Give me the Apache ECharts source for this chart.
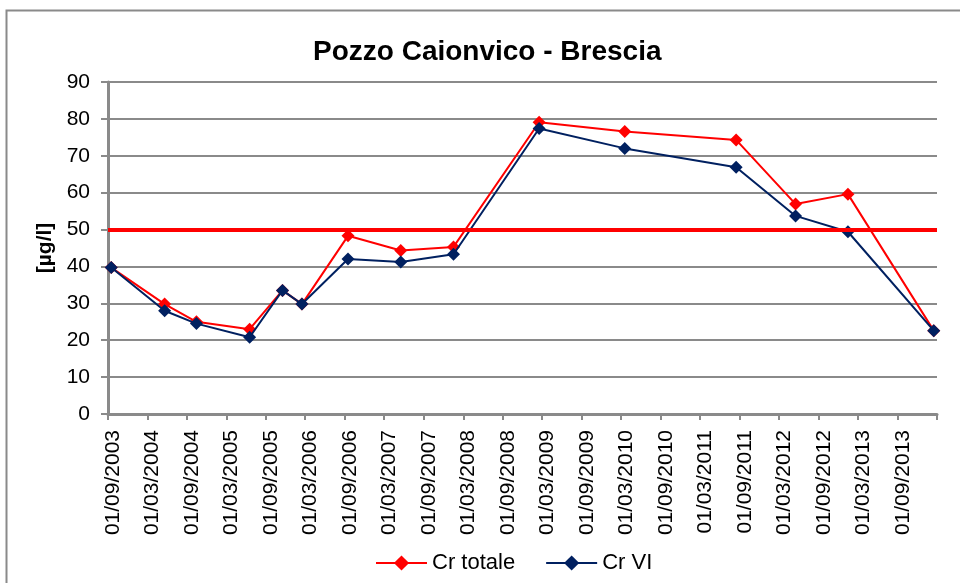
<!DOCTYPE html>
<html>
<head>
<meta charset="utf-8">
<script src="https://cdn.jsdelivr.net/npm/echarts@6/dist/echarts.min.js"></script>
<style>
html,body{margin:0;padding:0;background:#fff;}
#chart{width:960px;height:583px;}
</style>
</head>
<body>
<div id="chart"></div>
<script>
// ---- data ----
const titleText = 'Pozzo Caionvico - Brescia';
const yAxisName = '[µg/l]';
const seriesNames = ['Cr totale', 'Cr VI'];
const sampleDates = ['2003-09-16','2004-05-20','2004-10-14','2005-06-17','2005-11-16','2006-02-14','2006-09-15','2007-05-17','2008-01-16','2009-02-15','2010-03-18','2011-08-15','2012-05-16','2013-01-13','2014-02-14'];
const crTotale = [39.7, 29.8, 25.0, 23.0, 33.5, 29.8, 48.3, 44.3, 45.3, 79.1, 76.6, 74.3, 56.9, 59.6, 22.6];
const crVI     = [39.7, 28.0, 24.5, 20.8, 33.5, 29.8, 42.0, 41.2, 43.3, 77.4, 72.0, 66.9, 53.7, 49.4, 22.6];
const tickDates = ['2003-09-01','2004-03-01','2004-09-01','2005-03-01','2005-09-01','2006-03-01','2006-09-01','2007-03-01','2007-09-01','2008-03-01','2008-09-01','2009-03-01','2009-09-01','2010-03-01','2010-09-01','2011-03-01','2011-09-01','2012-03-01','2012-09-01','2013-03-01','2013-09-01','2014-03-01'];
const labelDates = tickDates.slice(0, 21);
const limitValue = 50;
const yTicks = [0, 10, 20, 30, 40, 50, 60, 70, 80, 90];

// day number (days since 1970-01-01, UTC) of a YYYY-MM-DD string
function toDay(s){ const p = s.split('-').map(Number); return Date.UTC(p[0], p[1]-1, p[2]) / 86400000; }
function pad(n){ return (n < 10 ? '0' : '') + n; }
function fmt(day){ const d = new Date(Math.round(day) * 86400000); return pad(d.getUTCDate()) + '/' + pad(d.getUTCMonth()+1) + '/' + d.getUTCFullYear(); }

const chart = echarts.init(document.getElementById('chart'), null, {renderer:'canvas'});
const FONT = 'Liberation Sans, Arial, sans-serif';
const GRAY = '#8a8a8a';

chart.setOption({
  animation: false,
  backgroundColor: '#fff',
  textStyle: { fontFamily: FONT },
  title: {
    text: titleText,
    left: 308, top: 33,
    textStyle: { fontFamily: FONT, fontSize: 28, fontWeight: 'bold', color: '#000' }
  },
  graphic: [{
    type: 'rect', silent: true, z: -10,
    shape: { x: 6.5, y: 10.5, width: 1000, height: 600 },
    style: { fill: 'none', stroke: GRAY, lineWidth: 2 }
  }],
  legend: {
    left: 370, top: 547,
    itemWidth: 51, itemHeight: 19, itemGap: 30,
    textStyle: { fontFamily: FONT, fontSize: 22, color: '#000' },
    data: seriesNames
  },
  grid: { left: 108, right: 23, top: 82, bottom: 169, containLabel: false },
  xAxis: {
    type: 'value',
    min: toDay(tickDates[0]),
    max: toDay(tickDates[tickDates.length-1]),
    axisLine: { show: true, onZero: false, lineStyle: { color: GRAY, width: 3 } },
    axisTick: { show: true, length: 6, lineStyle: { color: GRAY, width: 2 }, customValues: tickDates.map(toDay) },
    axisLabel: {
      customValues: labelDates.map(toDay),
      rotate: 90, margin: 16, verticalAlign: 'top', lineHeight: 10,
      fontFamily: FONT, fontSize: 21, color: '#000',
      formatter: function(v){ return fmt(v); }
    },
    splitLine: { show: false }
  },
  yAxis: {
    type: 'value', min: yTicks[0], max: yTicks[yTicks.length-1], interval: 10,
    name: yAxisName, nameLocation: 'middle', nameGap: 49, nameRotate: 90,
    nameTextStyle: { fontFamily: FONT, fontSize: 21, fontWeight: 'bold', color: '#000' },
    axisLine: { show: true, lineStyle: { color: GRAY, width: 3 } },
    axisTick: { show: true, length: 7, lineStyle: { color: GRAY, width: 2 } },
    axisLabel: { margin: 18, fontFamily: FONT, fontSize: 21, color: '#000' },
    splitLine: { show: true, lineStyle: { color: GRAY, width: 2 } }
  },
  series: [
    {
      name: seriesNames[0], type: 'line',
      data: crTotale.map((v,i)=>[toDay(sampleDates[i]), v]),
      symbol: 'diamond', symbolSize: 13,
      lineStyle: { color: '#ff0000', width: 2 },
      itemStyle: { color: '#ff0000' },
      markLine: {
        silent: true, symbol: 'none', label: { show: false },
        lineStyle: { color: '#ff0000', width: 4, type: 'solid' },
        data: [{ yAxis: limitValue }]
      },
      z: 2
    },
    {
      name: seriesNames[1], type: 'line',
      data: crVI.map((v,i)=>[toDay(sampleDates[i]), v]),
      symbol: 'diamond', symbolSize: 13,
      lineStyle: { color: '#002060', width: 2 },
      itemStyle: { color: '#002060' },
      z: 3
    }
  ]
});
</script>
</body>
</html>
